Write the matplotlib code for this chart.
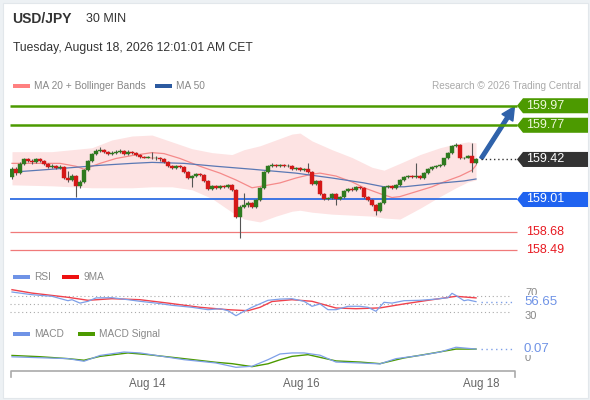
import matplotlib.pyplot as plt
import matplotlib.transforms as mtransforms
from matplotlib.patches import Polygon, Rectangle, FancyArrow
import numpy as np

plt.rcParams['font.family'] = ['Liberation Sans', 'DejaVu Sans']

# ---- price data (30 min candles) ----
first_open = 159.24
closes = [159.32, 159.28, 159.37, 159.42, 159.40, 159.39, 159.42, 159.40, 159.37, 159.34,
          159.35, 159.33, 159.34, 159.23, 159.21, 159.25, 159.15, 159.19, 159.31, 159.40,
          159.48, 159.51, 159.52, 159.50, 159.48, 159.49, 159.50, 159.51, 159.48, 159.50,
          159.49, 159.47, 159.45, 159.44, 159.44, 159.43, 159.44, 159.42, 159.39, 159.35,
          159.33, 159.35, 159.34, 159.29, 159.23, 159.25, 159.27, 159.26, 159.20, 159.12,
          159.15, 159.13, 159.15, 159.14, 159.16, 159.11, 158.83, 158.93, 158.95, 158.97,
          158.93, 159.00, 159.13, 159.29, 159.35, 159.36, 159.35, 159.36, 159.35, 159.35,
          159.32, 159.33, 159.31, 159.32, 159.29, 159.17, 159.20, 159.07, 159.01, 159.03,
          159.07, 159.01, 159.04, 159.10, 159.12, 159.11, 159.14, 159.13, 159.04, 159.00,
          158.95, 158.89, 158.97, 159.14, 159.15, 159.13, 159.16, 159.21, 159.24, 159.25,
          159.24, 159.25, 159.23, 159.28, 159.32, 159.34, 159.35, 159.36, 159.43, 159.49,
          159.56, 159.57, 159.43, 159.44, 159.46, 159.38, 159.42]
highs = [159.34, 159.34, 159.39, 159.44, 159.44, 159.42, 159.44, 159.43, 159.41, 159.38,
         159.37, 159.36, 159.36, 159.35, 159.30, 159.27, 159.26, 159.21, 159.32, 159.41,
         159.49, 159.53, 159.55, 159.53, 159.51, 159.51, 159.52, 159.53, 159.52, 159.52,
         159.51, 159.50, 159.48, 159.46, 159.46, 159.50, 159.46, 159.45, 159.43, 159.40,
         159.36, 159.36, 159.36, 159.35, 159.30, 159.26, 159.28, 159.28, 159.27, 159.21,
         159.16, 159.16, 159.16, 159.16, 159.17, 159.17, 159.12, 158.95, 159.08, 158.99,
         158.98, 159.01, 159.14, 159.30, 159.36, 159.38, 159.37, 159.37, 159.37, 159.37,
         159.36, 159.34, 159.34, 159.33, 159.38, 159.30, 159.21, 159.21, 159.08, 159.04,
         159.08, 159.08, 159.05, 159.11, 159.13, 159.14, 159.15, 159.15, 159.14, 159.05,
         159.01, 158.96, 158.98, 159.15, 159.16, 159.16, 159.17, 159.22, 159.25, 159.26,
         159.26, 159.38, 159.26, 159.29, 159.33, 159.35, 159.36, 159.37, 159.44, 159.50,
         159.57, 159.59, 159.58, 159.45, 159.47, 159.59, 159.43]
lows = [159.22, 159.26, 159.27, 159.36, 159.39, 159.37, 159.38, 159.39, 159.36, 159.33,
        159.33, 159.32, 159.32, 159.22, 159.19, 159.20, 159.04, 159.13, 159.18, 159.30,
        159.39, 159.47, 159.50, 159.49, 159.47, 159.47, 159.48, 159.49, 159.47, 159.47,
        159.48, 159.46, 159.44, 159.43, 159.43, 159.42, 159.41, 159.40, 159.38, 159.34,
        159.32, 159.32, 159.33, 159.28, 159.22, 159.14, 159.24, 159.25, 159.19, 159.11,
        159.11, 159.12, 159.12, 159.13, 159.13, 159.10, 158.82, 158.62, 158.92, 158.93,
        158.92, 158.92, 158.99, 159.12, 159.28, 159.34, 159.34, 159.34, 159.34, 159.34,
        159.31, 159.31, 159.30, 159.30, 159.28, 159.16, 159.16, 159.06, 159.00, 159.00,
        159.02, 158.95, 159.00, 159.03, 159.09, 159.10, 159.10, 159.12, 159.03, 158.99,
        158.94, 158.85, 158.88, 158.96, 159.13, 159.12, 159.12, 159.15, 159.20, 159.23,
        159.23, 159.23, 159.22, 159.22, 159.27, 159.31, 159.33, 159.34, 159.35, 159.42,
        159.48, 159.55, 159.42, 159.42, 159.43, 159.29, 159.37]

band_idx = [0, 10, 20, 25, 30, 35, 40, 45, 50, 55, 58, 62, 66, 70, 72, 75, 80, 85, 90,
            93, 97, 102, 107, 111, 114, 116]
band_upper = [159.50, 159.50, 159.54, 159.62, 159.66, 159.67, 159.60, 159.53, 159.49, 159.47,
              159.52, 159.56, 159.62, 159.68, 159.69, 159.61, 159.52, 159.44, 159.34, 159.31,
              159.38, 159.47, 159.54, 159.58, 159.60, 159.59]
band_lower = [159.16, 159.15, 159.13, 159.13, 159.13, 159.14, 159.14, 159.11, 159.02, 158.88,
              158.81, 158.78, 158.84, 158.89, 158.90, 158.88, 158.86, 158.85, 158.84, 158.82,
              158.81, 158.92, 159.04, 159.13, 159.19, 159.21]
ma20_idx = [0, 7, 12, 16, 18, 22, 26, 30, 35, 38, 42, 47, 52, 56, 60, 63, 67, 71, 75, 77,
            81, 85, 88, 92, 95, 97, 101, 105, 108, 112, 115, 116]
ma20 = [159.38, 159.38, 159.38, 159.35, 159.32, 159.38, 159.43, 159.46, 159.49, 159.48,
        159.43, 159.35, 159.28, 159.21, 159.13, 159.15, 159.18, 159.23, 159.27, 159.28,
        159.25, 159.19, 159.13, 159.07, 159.03, 159.04, 159.09, 159.14, 159.19, 159.25,
        159.31, 159.36]
ma50_idx = [0, 10, 16, 22, 30, 35, 43, 51, 60, 71, 80, 88, 93, 98, 105, 113, 116]
ma50 = [159.29, 159.32, 159.34, 159.36, 159.38, 159.39, 159.38, 159.35, 159.32, 159.28,
        159.23, 159.18, 159.14, 159.14, 159.17, 159.20, 159.22]

# key levels
res_levels = [159.97, 159.77]
last_price = 159.42
pivot = 159.01
sup_levels = [158.68, 158.49]

# ---- RSI ----
rsi_idx = [0, 5, 10, 14, 15, 17, 19, 21, 25, 29, 32, 36, 40, 45, 49, 52, 54, 56, 58, 60,
           64, 67, 70, 73, 75, 77, 79, 81, 84, 87, 89, 91, 93, 95, 98, 102, 106, 109, 110,
           111, 113, 114, 116]
rsi = [80.7, 74, 70, 59, 61.5, 53, 57.5, 66, 66.5, 61.5, 57.5, 53, 47.5, 42.5, 36.5, 39, 34,
       21.5, 32.5, 42.5, 60, 63, 64, 57.5, 45, 51, 36.5, 36.5, 45, 45, 42.5, 32.5, 55, 53, 59,
       60, 63, 66.5, 77.5, 72, 59, 61, 56.65]
rsi_ma_idx = [0, 5, 14, 19, 25, 32, 39, 47, 54, 59, 62, 65, 70, 75, 81, 86, 92, 98, 104, 111, 116]
rsi_ma = [86.5, 78, 67.5, 60, 64, 61.5, 53, 42.5, 36.5, 34, 42.5, 57, 61.5, 57.5, 40.8, 39,
          41, 51, 60, 70, 66]

# ---- MACD ----
macd_idx = [0, 14, 18, 22, 28, 32, 43, 51, 56, 60, 64, 67, 70, 73, 77, 81, 87, 92, 96, 102,
            107, 111, 116]
macd = [0.006, -0.01, -0.033, 0.018, 0.048, 0.04, -0.019, -0.048, -0.086, -0.077, -0.019,
        0.031, 0.04, 0.04, 0.02, -0.04, -0.048, -0.056, -0.01, 0.018, 0.048, 0.09, 0.074]
sig_idx = [0, 7, 14, 18, 22, 29, 34, 43, 51, 55, 60, 64, 67, 70, 74, 81, 87, 92, 98, 104,
           111, 116]
sig = [0.018, 0.007, -0.01, -0.024, 0.01, 0.04, 0.025, -0.01, -0.042, -0.054, -0.08, -0.055,
       -0.02, 0.01, 0.025, -0.03, -0.04, -0.054, -0.004, 0.031, 0.074, 0.074]

tick_pos = [33.75, 72.25, 117.25]
tick_labels = ['Aug 14', 'Aug 16', 'Aug 18']

W, H = 590, 400
fig = plt.figure(figsize=(W / 100, H / 100), dpi=100, facecolor='#edf1f4')

# pixel overlay for texts / frame
deco = fig.add_axes([0, 0, 1, 1], zorder=0)
deco.set_xlim(0, W)
deco.set_ylim(H, 0)
deco.axis('off')
deco.add_patch(Rectangle((2.5, 2.5), 585, 395, facecolor='white', edgecolor='#e2e7eb', lw=0.8))


def px_axes(x0, y0, x1, y1):
    return fig.add_axes([x0 / W, 1 - y1 / H, (x1 - x0) / W, (y1 - y0) / H], zorder=1)


XL = (-0.5, 125.0)
ax = px_axes(10, 95, 512, 262)
rsi_ax = px_axes(10, 286, 512, 320)
macd_ax = px_axes(10, 340, 512, 370)
for a in (ax, rsi_ax, macd_ax):
    a.set_xlim(*XL)
    a.axis('off')
    a.patch.set_visible(False)
ax.set_ylim(158.37, 160.08)
rsi_ax.set_ylim(10.75, 95.75)
macd_ax.set_ylim(-0.1096, 0.1535)

# ---- main chart ----
idx = np.arange(len(closes))
opens = np.array([first_open] + closes[:-1])
c = np.array(closes)
ax.fill_between(band_idx, band_lower, band_upper, color='#fde3e3', lw=0, zorder=1)
ax.plot(ma20_idx, ma20, color='#f58a8a', lw=0.9, zorder=2)
ax.plot(ma50_idx, ma50, color='#5a78b4', lw=0.9, zorder=2)

up = c >= opens
colors = np.where(up, '#2f7a1f', '#d41818')
ax.vlines(idx, lows, highs, colors='#555555', lw=0.8, zorder=3)
bottoms = np.minimum(opens, c)
heights = np.maximum(np.abs(c - opens), 0.006)
ax.bar(idx, heights, bottom=bottoms, width=0.78, color=colors, edgecolor=colors, lw=0.3, zorder=4)

ax.hlines(res_levels, -0.5, 126.3, colors='#4c9a00', lw=1.8, zorder=2, clip_on=False)
ax.hlines(pivot, -0.5, 126.3, colors='#2f6de3', lw=1.3, zorder=2, clip_on=False)
ax.hlines(sup_levels, -0.5, 126.3, colors='#f07a7a', lw=0.9, zorder=2, clip_on=False)
ax.hlines(last_price, 117.3, 126.3, colors='#333333', lw=1.0, linestyles=(0, (1, 2)),
          zorder=2, clip_on=False)

tr_px_price = mtransforms.blended_transform_factory(deco.transData, ax.transData)
half_h = 0.077


def tag(y, text, face, fg):
    deco.add_patch(Polygon([[517, y], [523, y + half_h], [588, y + half_h], [588, y - half_h],
                            [523, y - half_h]], closed=True, transform=tr_px_price,
                           facecolor=face, edgecolor='none', zorder=5, clip_on=False))
    deco.text(526, y, text, transform=tr_px_price, color=fg, fontsize=9, va='center',
              ha='left', zorder=6)


for lv in res_levels:
    tag(lv, f'{lv:.2f}', '#4c9a00', '#eef8dc')
tag(last_price, f'{last_price:.2f}', '#333333', 'white')
tag(pivot, f'{pivot:.2f}', '#1f63f0', 'white')
for lv in sup_levels:
    deco.text(526, lv, f'{lv:.2f}', transform=tr_px_price, color='#e81a22', fontsize=9,
              va='center', ha='left')

# arrow from last candle to the first resistance tag
to_px = deco.transData.inverted()
tail = to_px.transform(ax.transData.transform((117.3, last_price + 0.01)))
head = to_px.transform(ax.transData.transform((125.6, res_levels[0] - 0.01)))
deco.add_patch(FancyArrow(tail[0], tail[1], head[0] - tail[0], head[1] - tail[1], width=3.6,
                          head_width=13, head_length=13, length_includes_head=True,
                          color='#2f62aa', zorder=7))

# ---- RSI ----
for lv in (70, 50, 30):
    rsi_ax.hlines(lv, -0.5, 125, colors='#aaaaaa', lw=0.8, linestyles=(0, (1, 2.5)))
rsi_ax.plot(rsi_ma_idx, rsi_ma, color='#f0414c', lw=1.0)
rsi_ax.plot(rsi_idx, rsi, color='#7d9fe8', lw=0.9)
rsi_ax.hlines(rsi[-1], 117.3, 125.5, colors='#7d9fe8', lw=1.0, linestyles=(0, (1, 2.5)),
              clip_on=False)
tr_px_rsi = mtransforms.blended_transform_factory(deco.transData, rsi_ax.transData)
deco.text(525, 78.5, '70', transform=tr_px_rsi, color='#888888', fontsize=8, va='center')
deco.text(525, 21.5, '30', transform=tr_px_rsi, color='#888888', fontsize=8, va='center')
deco.text(524, rsi[-1], f'{rsi[-1]:.2f}', transform=tr_px_rsi, color='#6f93e6', fontsize=9.5,
          va='center', bbox=dict(facecolor='white', edgecolor='none', pad=0.2))

# ---- MACD ----
macd_ax.plot(sig_idx, sig, color='#4c9a00', lw=1.0)
macd_ax.plot(macd_idx, macd, color='#7d9fe8', lw=0.9)
macd_ax.hlines(macd[-1], 117.3, 125.5, colors='#7d9fe8', lw=1.0, linestyles=(0, (1, 2.5)),
               clip_on=False)
tr_px_macd = mtransforms.blended_transform_factory(deco.transData, macd_ax.transData)
deco.text(525, -0.008, '0', transform=tr_px_macd, color='#888888', fontsize=8, va='center')
deco.text(524, macd[-1], f'{macd[-1]:.2f}', transform=tr_px_macd, color='#6f93e6',
          fontsize=9.5, va='center', bbox=dict(facecolor='white', edgecolor='none', pad=0.2))

# ---- bottom axis ----
deco.plot([11, 11, 515, 515], [377, 371, 371, 377], color='#aaaaaa', lw=1.2)
tr_idx_px = mtransforms.blended_transform_factory(ax.transData, deco.transData)
for p, lab in zip(tick_pos, tick_labels):
    deco.text(p, 384, lab, transform=tr_idx_px, ha='center', va='center', fontsize=8.3,
              color='#666666')

# ---- header and legends ----
deco.text(12, 19, 'USD/JPY', fontsize=10, fontweight='bold', color='#333333', va='center')
deco.text(86, 19, '30 MIN', fontsize=9, color='#333333', va='center')
deco.text(13, 48, 'Tuesday, August 18, 2026 12:01:01 AM CET', fontsize=8.7, color='#333333',
          va='center')


def legend_item(x, y, color, label, fs=7.3):
    deco.add_patch(Rectangle((x, y - 2.2), 17, 4.4, facecolor=color, edgecolor='none'))
    deco.text(x + 21, y, label, fontsize=fs, color='#888888', va='center')


legend_item(13, 86, '#ff8080', 'MA 20 + Bollinger Bands')
legend_item(155, 86, '#2c5aa0', 'MA 50')
deco.text(581, 86, 'Research \u00a9 2026 Trading Central', fontsize=7.2, color='#aaaaaa',
          va='center', ha='right')
legend_item(13, 277, '#6f93e6', 'RSI')
legend_item(62, 277, '#ee1111', '9MA')
legend_item(13, 334, '#6f93e6', 'MACD')
legend_item(78, 334, '#4c9a00', 'MACD Signal')

fig.savefig('out.png', dpi=100, facecolor=fig.get_facecolor())
